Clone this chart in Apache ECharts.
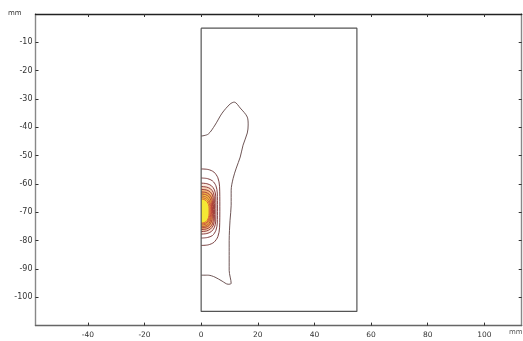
<!DOCTYPE html>
<html>
<head>
<meta charset="utf-8">
<script src="https://cdn.jsdelivr.net/npm/echarts@6/dist/echarts.min.js"></script>
<style>html,body{margin:0;padding:0;background:#fff}#c{width:523px;height:341px}</style>
</head>
<body>
<div id="c"></div>
<script>
// Tick labels
const xTicks = [-40, -20, 0, 20, 40, 60, 80, 100];
const yTicks = [-10, -20, -30, -40, -50, -60, -70, -80, -90, -100];

// Domain rectangle (mm)
const domainRect = [[0, -5], [55, -5], [55, -105], [0, -105], [0, -5]];

// Contour lines (mm)
const contourOuter = [[0,-43.1],[2.5,-42.4],[4.9,-39.2],[7.4,-35.0],[10.2,-31.8],[11.7,-31.1],[13.8,-33.2],[16.3,-36.4],[16.6,-39.2],[16.3,-42.0],[14.8,-46.3],[13.8,-50.5],[12.4,-54.4],[11.3,-58.0],[10.6,-62.2],[10.6,-67.5],[10.2,-72.8],[9.9,-79.9],[9.9,-85.2],[9.9,-90.5],[10.6,-95.1],[9.5,-95.4],[7.4,-94.3],[4.9,-92.9],[2.5,-92.2],[0,-92.2]];
const contour1 = [[0,-54.7],[2.5,-54.9],[4.5,-55.8],[5.9,-57.8],[6.5,-60.8],[6.6,-68],[6.5,-75.5],[5.9,-78.6],[4.5,-80.6],[2.5,-81.5],[0,-81.7]];
const contour2 = [[0,-57.9],[2.2,-58.1],[4.0,-58.9],[5.2,-60.6],[5.7,-63.2],[5.75,-68.5],[5.7,-73.8],[5.2,-76.4],[4.0,-78.2],[2.2,-78.9],[0,-79.1]];
const contour3 = [[0,-59.7],[2.0,-59.9],[3.6,-60.6],[4.7,-62.1],[5.15,-64.3],[5.2,-68.7],[5.15,-73.1],[4.7,-75.3],[3.6,-76.8],[2.0,-77.5],[0,-77.7]];
const contour4 = [[0,-60.9],[1.9,-61.1],[3.3,-61.7],[4.3,-63.0],[4.65,-65.0],[4.7,-68.9],[4.65,-72.7],[4.3,-74.6],[3.3,-75.9],[1.9,-76.6],[0,-76.8]];
const contour5 = [[0,-61.9],[1.8,-62.1],[3.1,-62.7],[4.0,-63.9],[4.3,-65.7],[4.35,-69.0],[4.3,-72.3],[4.0,-74.1],[3.1,-75.3],[1.8,-75.9],[0,-76.1]];
const contour6 = [[0,-62.8],[1.7,-63.0],[2.9,-63.7],[3.7,-64.9],[4.0,-66.7],[4.0,-69.2],[3.95,-71.6],[3.6,-73.4],[2.8,-74.7],[1.6,-75.3],[0,-75.5]];
const contour7 = [[0,-63.5],[1.6,-63.8],[2.7,-64.5],[3.4,-65.7],[3.65,-67.4],[3.65,-69.6],[3.5,-71.8],[3.1,-73.4],[2.3,-74.4],[1.3,-74.9],[0,-75.0]];
const contour8 = [[0,-64.2],[1.5,-64.5],[2.5,-65.2],[3.1,-66.4],[3.4,-68.0],[3.4,-70.0],[3.2,-71.8],[2.7,-73.2],[1.9,-74.1],[1.0,-74.4],[0,-74.5]];
const contour9 = [[0,-64.8],[1.4,-65.1],[2.3,-65.8],[2.9,-66.9],[3.1,-68.4],[3.1,-70.2],[2.9,-71.8],[2.4,-73.0],[1.7,-73.8],[0.9,-74.0],[0,-74.1]];
const contour10 = [[0,-65.3],[1.3,-65.6],[2.1,-66.3],[2.6,-67.3],[2.8,-68.7],[2.8,-70.3],[2.6,-71.8],[2.1,-72.9],[1.4,-73.5],[0.7,-73.7],[0,-73.8]];

const contours = [contourOuter, contour1, contour2, contour3, contour4, contour5, contour6, contour7, contour8, contour9, contour10];
const contourColors = ['#5e4242', '#6b2e2e', '#742c2c', '#7e2a2a', '#8a2b2b', '#963030', '#a53535', '#b53c3c', '#c54444', '#d04a40', '#d85a3a'];

// Filled heat levels
const fillContours = [contour3, contour4, contour5, contour6, contour7, contour9];
const fillColors = ['#fae8dc', '#f6d2b4', '#f2b878', '#efb048', '#efd23e', '#f4e834'];

const chart = echarts.init(document.getElementById('c'), null, {renderer: 'canvas'});

const labelFont = {fontFamily: 'DejaVu Sans', fontSize: 7.5, color: '#333'};

const series = [];
series.push({
  type: 'custom',
  silent: true,
  clip: true,
  data: fillContours.map(c => c[0]),
  renderItem: function (params, api) {
    const pts = fillContours[params.dataIndex].map(p => api.coord(p));
    return {type: 'polygon', shape: {points: pts, smooth: 0}, style: {fill: fillColors[params.dataIndex]}};
  },
  z: 1
});
contours.forEach((c, i) => {
  series.push({
    type: 'line', data: c, smooth: 0.3, symbol: 'none', silent: true,
    lineStyle: {color: contourColors[i], width: 0.9}, z: 2
  });
});
series.push({
  type: 'line', data: domainRect, symbol: 'none', silent: true,
  lineStyle: {color: '#555', width: 1.2}, z: 3
});

chart.setOption({
  animation: false,
  backgroundColor: '#fff',
  grid: {left: 35.5, right: 1.3, top: 14, bottom: 15.4},
  xAxis: [{
    type: 'value', min: -58.5, max: 113.2, position: 'bottom',
    axisLine: {show: true, onZero: false, lineStyle: {color: '#666', width: 1.4}},
    axisTick: {show: true, inside: true, length: 3, customValues: xTicks, lineStyle: {color: '#333'}},
    axisLabel: Object.assign({show: true, margin: 5, customValues: xTicks}, labelFont),
    splitLine: {show: false}
  }, {
    type: 'value', min: -58.5, max: 113.2, position: 'top',
    axisLine: {show: true, onZero: false, lineStyle: {color: '#222', width: 1.4}},
    axisTick: {show: true, inside: true, length: 3, customValues: xTicks, lineStyle: {color: '#333'}},
    axisLabel: {show: false},
    splitLine: {show: false}
  }],
  yAxis: [{
    type: 'value', min: -110, max: 0, position: 'left',
    axisLine: {show: true, onZero: false, lineStyle: {color: '#888', width: 1.4}},
    axisTick: {show: true, inside: true, length: 3, customValues: yTicks, lineStyle: {color: '#333'}},
    axisLabel: Object.assign({show: true, margin: 3, customValues: yTicks}, labelFont, {fontSize: 8}),
    splitLine: {show: false}
  }, {
    type: 'value', min: -110, max: 0, position: 'right',
    axisLine: {show: true, onZero: false, lineStyle: {color: '#888', width: 1.4}},
    axisTick: {show: true, inside: true, length: 3, customValues: yTicks, lineStyle: {color: '#333'}},
    axisLabel: {show: false},
    splitLine: {show: false}
  }],
  graphic: [
    {type: 'text', left: 8, top: 10, style: {text: 'mm', font: '7px DejaVu Sans', fill: '#333'}},
    {type: 'text', left: 509, top: 329, style: {text: 'mm', font: '7px DejaVu Sans', fill: '#555'}}
  ],
  series: series
});
</script>
</body>
</html>
